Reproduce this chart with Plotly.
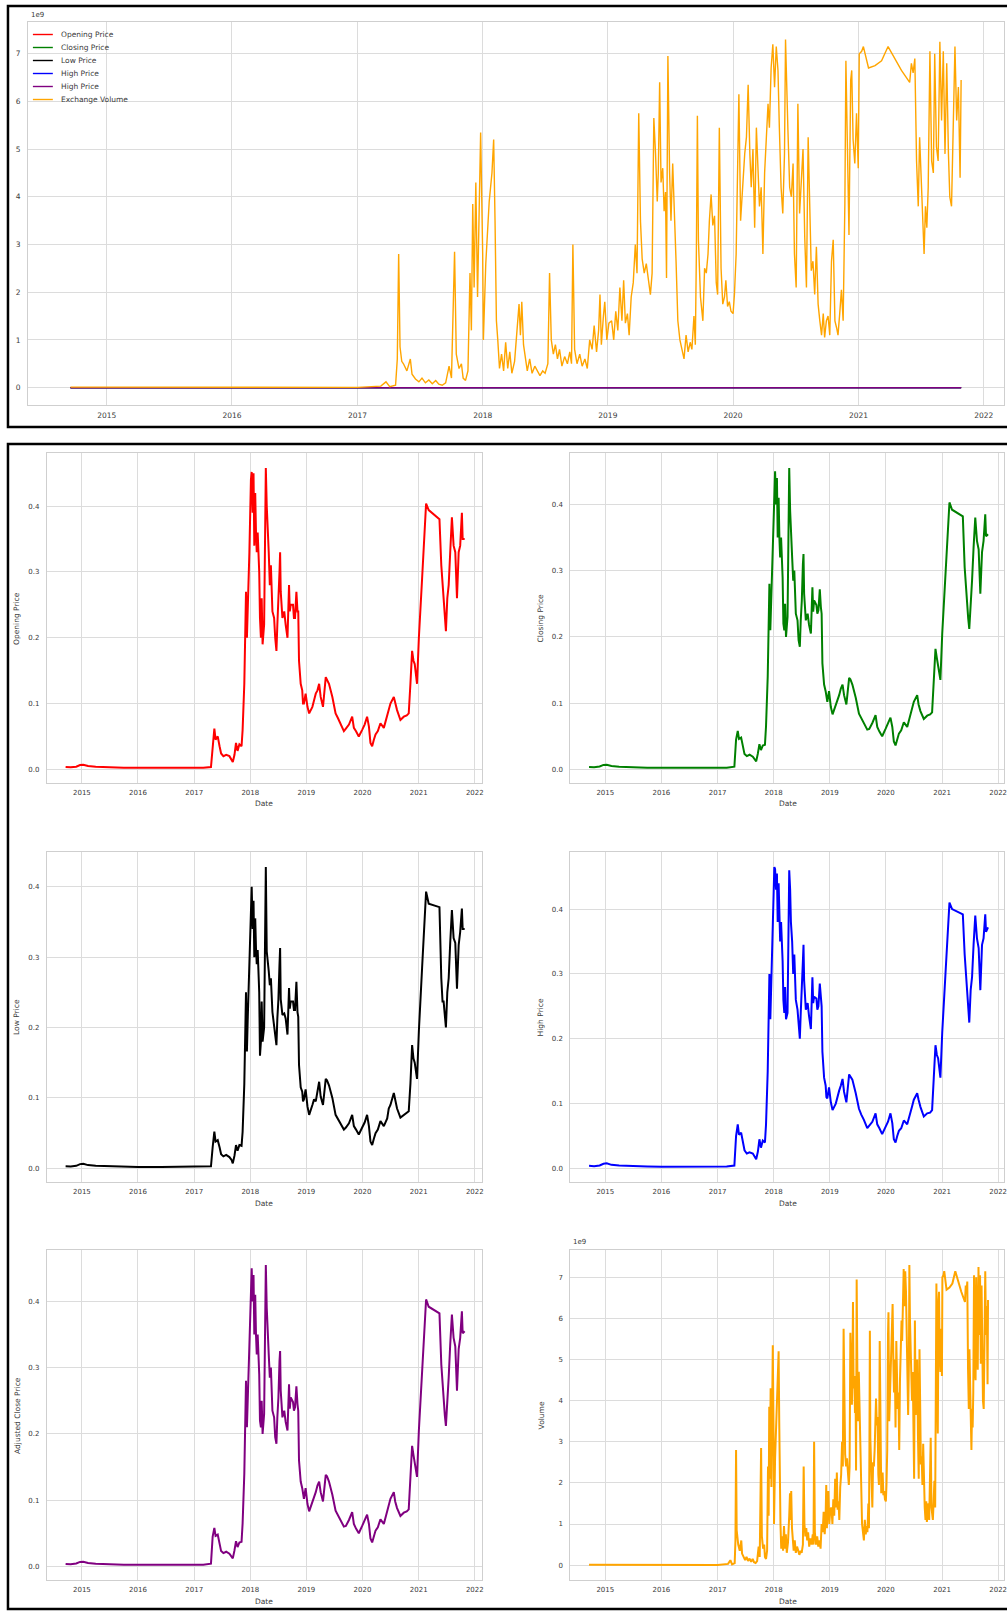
import plotly.graph_objects as go

W, H = 1007, 1611

# ---------------- data ----------------
price_dates = [
    "2014-09-17", "2014-10-20", "2014-11-25", "2014-12-20", "2015-01-10", "2015-02-10", "2015-04-01",
    "2015-07-01", "2015-10-01", "2016-01-01", "2016-06-01", "2016-12-01", "2017-03-01", "2017-04-20",
    "2017-05-01", "2017-05-12", "2017-05-20", "2017-06-03", "2017-06-15", "2017-06-25", "2017-07-10", "2017-07-28",
    "2017-08-18", "2017-09-01", "2017-09-09", "2017-09-20", "2017-09-30", "2017-10-10", "2017-10-22", "2017-11-05",
    "2017-11-12", "2017-11-23", "2017-12-04", "2017-12-10", "2017-12-15", "2017-12-26",
    "2018-01-05", "2018-01-10", "2018-01-16", "2018-01-22", "2018-01-27", "2018-02-02", "2018-02-07", "2018-02-12", "2018-02-18", "2018-02-28",
    "2018-03-05", "2018-03-11", "2018-03-16", "2018-03-22", "2018-04-01", "2018-04-08", "2018-04-12", "2018-04-18", "2018-04-23", "2018-05-01",
    "2018-05-08", "2018-05-15", "2018-05-25", "2018-06-05", "2018-06-12", "2018-06-20", "2018-06-26", "2018-07-03", "2018-07-10", "2018-07-14",
    "2018-07-18", "2018-07-29", "2018-08-10", "2018-08-19", "2018-08-31", "2018-09-10", "2018-09-15", "2018-09-21", "2018-10-06", "2018-10-12",
    "2018-10-19", "2018-10-28", "2018-11-04", "2018-11-09", "2018-11-14", "2018-11-25", "2018-12-05", "2018-12-10", "2018-12-16", "2018-12-27",
    "2019-01-08", "2019-01-19", "2019-02-09", "2019-02-20", "2019-03-03", "2019-03-14", "2019-03-25", "2019-04-04",
    "2019-04-19", "2019-05-07", "2019-05-15", "2019-05-28", "2019-06-19", "2019-07-10", "2019-07-25", "2019-08-11",
    "2019-09-02", "2019-09-15", "2019-10-05", "2019-10-26", "2019-11-06", "2019-11-20", "2019-12-08", "2019-12-30",
    "2020-01-15", "2020-01-31", "2020-02-12", "2020-02-22", "2020-03-04", "2020-03-15", "2020-03-26", "2020-04-10",
    "2020-04-27", "2020-05-19", "2020-06-10", "2020-06-20", "2020-07-01", "2020-07-23", "2020-08-01", "2020-08-13",
    "2020-09-04", "2020-09-26", "2020-10-15", "2020-10-28", "2020-11-08", "2020-11-19", "2020-11-28", "2020-12-06", "2020-12-21",
    "2021-01-02", "2021-01-23", "2021-02-05", "2021-02-18", "2021-03-07", "2021-05-16", "2021-05-28", "2021-06-05",
    "2021-06-12", "2021-06-20", "2021-06-27", "2021-07-06", "2021-07-15", "2021-07-25", "2021-08-05", "2021-08-16",
    "2021-08-27", "2021-09-07", "2021-09-18", "2021-09-28", "2021-10-09", "2021-10-14", "2021-10-27",
]

open_price = [
    0.0035, 0.0030, 0.0040, 0.0065, 0.0070, 0.0050, 0.0040,
    0.0030, 0.0025, 0.0022, 0.0020, 0.0022, 0.0025, 0.0035,
    0.040, 0.062, 0.045, 0.050, 0.035, 0.024, 0.020, 0.022,
    0.020, 0.014, 0.011, 0.022, 0.040, 0.028, 0.038, 0.035,
    0.060, 0.130, 0.270, 0.200, 0.235, 0.330,
    0.440, 0.452, 0.390, 0.450, 0.340, 0.420, 0.360, 0.330, 0.360, 0.300,
    0.230, 0.200, 0.260, 0.190, 0.220, 0.380, 0.458, 0.400, 0.360, 0.330,
    0.280, 0.310, 0.240, 0.230, 0.200, 0.180, 0.220, 0.250, 0.300, 0.330,
    0.270, 0.230, 0.240, 0.220, 0.200, 0.280, 0.240, 0.250, 0.250, 0.230,
    0.230, 0.270, 0.240, 0.240, 0.165, 0.130, 0.120, 0.100, 0.100, 0.115,
    0.095, 0.085, 0.095, 0.105, 0.115, 0.120, 0.130, 0.110,
    0.095, 0.140, 0.135, 0.130, 0.110, 0.085, 0.078, 0.070,
    0.058, 0.062, 0.068, 0.080, 0.063, 0.058, 0.050, 0.060,
    0.068, 0.080, 0.065, 0.040, 0.035, 0.045, 0.053, 0.058,
    0.070, 0.063, 0.080, 0.090, 0.100, 0.110, 0.100, 0.090,
    0.075, 0.080, 0.082, 0.085, 0.130, 0.180, 0.165, 0.160, 0.130,
    0.200, 0.290, 0.350, 0.404, 0.394, 0.380, 0.310, 0.280,
    0.250, 0.230, 0.210, 0.260, 0.280, 0.330, 0.383, 0.340,
    0.330, 0.260, 0.330, 0.340, 0.390, 0.350, 0.350,
]

high_price = [
    0.0040, 0.0035, 0.0045, 0.0072, 0.0078, 0.0055, 0.0044,
    0.0033, 0.0028, 0.0024, 0.0022, 0.0024, 0.0028, 0.0045,
    0.050, 0.068, 0.052, 0.055, 0.040, 0.028, 0.023, 0.025,
    0.023, 0.017, 0.014, 0.026, 0.045, 0.032, 0.043, 0.040,
    0.068, 0.150, 0.300, 0.230, 0.270, 0.350,
    0.465, 0.462, 0.430, 0.455, 0.380, 0.440, 0.390, 0.350, 0.380, 0.320,
    0.260, 0.240, 0.280, 0.230, 0.240, 0.400, 0.460, 0.430, 0.380, 0.350,
    0.300, 0.330, 0.260, 0.245, 0.215, 0.200, 0.240, 0.270, 0.320, 0.345,
    0.290, 0.245, 0.255, 0.235, 0.215, 0.295, 0.255, 0.265, 0.262, 0.245,
    0.250, 0.285, 0.255, 0.250, 0.180, 0.140, 0.128, 0.110, 0.108, 0.125,
    0.102, 0.090, 0.100, 0.112, 0.120, 0.128, 0.138, 0.118,
    0.102, 0.145, 0.142, 0.137, 0.116, 0.092, 0.083, 0.075,
    0.062, 0.066, 0.072, 0.085, 0.068, 0.062, 0.053, 0.064,
    0.072, 0.085, 0.070, 0.045, 0.040, 0.050, 0.058, 0.062,
    0.074, 0.068, 0.085, 0.096, 0.106, 0.116, 0.106, 0.095,
    0.080, 0.085, 0.086, 0.090, 0.140, 0.190, 0.175, 0.170, 0.140,
    0.210, 0.300, 0.360, 0.410, 0.400, 0.392, 0.330, 0.300,
    0.270, 0.245, 0.225, 0.275, 0.295, 0.345, 0.390, 0.355,
    0.340, 0.275, 0.345, 0.355, 0.392, 0.365, 0.372,
]

low_price = [
    0.0030, 0.0027, 0.0036, 0.0060, 0.0064, 0.0046, 0.0037,
    0.0028, 0.0023, 0.0020, 0.0019, 0.0020, 0.0023, 0.0030,
    0.030, 0.052, 0.038, 0.040, 0.030, 0.020, 0.017, 0.019,
    0.016, 0.012, 0.007, 0.018, 0.033, 0.025, 0.033, 0.032,
    0.052, 0.120, 0.250, 0.166, 0.210, 0.300,
    0.360, 0.400, 0.340, 0.380, 0.300, 0.355, 0.313, 0.290, 0.310, 0.250,
    0.160, 0.180, 0.237, 0.180, 0.200, 0.331, 0.428, 0.308, 0.300, 0.280,
    0.260, 0.270, 0.222, 0.200, 0.185, 0.175, 0.213, 0.240, 0.290, 0.313,
    0.240, 0.218, 0.220, 0.213, 0.190, 0.256, 0.227, 0.237, 0.237, 0.225,
    0.225, 0.265, 0.222, 0.215, 0.147, 0.115, 0.109, 0.095, 0.098, 0.112,
    0.088, 0.076, 0.090, 0.098, 0.095, 0.110, 0.123, 0.102,
    0.090, 0.127, 0.125, 0.118, 0.100, 0.076, 0.070, 0.062,
    0.055, 0.058, 0.064, 0.076, 0.060, 0.055, 0.048, 0.058,
    0.065, 0.076, 0.060, 0.038, 0.033, 0.042, 0.050, 0.055,
    0.067, 0.060, 0.071, 0.085, 0.090, 0.107, 0.095, 0.085,
    0.072, 0.076, 0.080, 0.081, 0.120, 0.175, 0.156, 0.150, 0.127,
    0.195, 0.285, 0.345, 0.393, 0.376, 0.371, 0.270, 0.237,
    0.237, 0.215, 0.200, 0.250, 0.270, 0.320, 0.367, 0.327,
    0.320, 0.255, 0.317, 0.336, 0.369, 0.340, 0.340,
]

close_price = [
    0.0035, 0.0030, 0.0042, 0.0066, 0.0068, 0.0050, 0.0040,
    0.0030, 0.0025, 0.0022, 0.0020, 0.0022, 0.0025, 0.0040,
    0.045, 0.058, 0.046, 0.048, 0.034, 0.023, 0.020, 0.022,
    0.019, 0.014, 0.012, 0.024, 0.038, 0.029, 0.036, 0.037,
    0.065, 0.140, 0.280, 0.210, 0.250, 0.340,
    0.430, 0.450, 0.400, 0.440, 0.350, 0.410, 0.350, 0.320, 0.350, 0.290,
    0.220, 0.210, 0.250, 0.200, 0.230, 0.370, 0.455, 0.390, 0.350, 0.320,
    0.285, 0.300, 0.235, 0.225, 0.195, 0.185, 0.225, 0.255, 0.310, 0.325,
    0.265, 0.225, 0.235, 0.218, 0.205, 0.275, 0.238, 0.255, 0.248, 0.235,
    0.240, 0.272, 0.245, 0.235, 0.160, 0.128, 0.118, 0.105, 0.102, 0.118,
    0.094, 0.083, 0.096, 0.106, 0.112, 0.122, 0.128, 0.112,
    0.098, 0.138, 0.136, 0.128, 0.108, 0.084, 0.077, 0.068,
    0.060, 0.061, 0.070, 0.082, 0.064, 0.057, 0.050, 0.061,
    0.070, 0.078, 0.064, 0.042, 0.036, 0.046, 0.054, 0.059,
    0.071, 0.064, 0.082, 0.092, 0.102, 0.112, 0.098, 0.088,
    0.076, 0.081, 0.083, 0.086, 0.135, 0.182, 0.168, 0.158, 0.135,
    0.205, 0.295, 0.355, 0.403, 0.392, 0.382, 0.305, 0.275,
    0.255, 0.228, 0.212, 0.262, 0.285, 0.335, 0.380, 0.345,
    0.332, 0.265, 0.328, 0.345, 0.385, 0.352, 0.355,
]

# Adjusted close equals close for this asset
adj_close_price = list(close_price)

volume_dates = [
    "2014-09-17", "2015-03-01", "2015-09-01", "2016-03-01", "2016-09-01", "2017-01-01", "2017-03-10", "2017-03-25",
    "2017-04-05", "2017-04-22", "2017-04-27", "2017-05-01", "2017-05-05", "2017-05-10", "2017-05-15", "2017-05-25",
    "2017-06-04", "2017-06-09", "2017-06-19", "2017-06-29", "2017-07-08", "2017-07-18", "2017-07-28", "2017-08-07",
    "2017-08-17", "2017-08-26", "2017-09-05", "2017-09-15", "2017-09-25", "2017-10-02", "2017-10-11", "2017-10-16",
    "2017-10-24", "2017-10-31", "2017-11-05", "2017-11-12", "2017-11-19", "2017-11-25", "2017-11-29", "2017-12-03",
    "2017-12-07", "2017-12-12", "2017-12-17", "2017-12-21", "2017-12-26", "2018-01-01", "2018-01-03", "2018-01-10",
    "2018-01-20", "2018-01-28", "2018-02-02", "2018-02-06", "2018-02-10", "2018-02-14", "2018-02-19", "2018-02-25",
    "2018-03-03", "2018-03-09", "2018-03-15", "2018-03-21", "2018-03-27", "2018-04-04", "2018-04-12", "2018-04-17",
    "2018-04-21", "2018-04-25", "2018-04-30", "2018-05-05", "2018-05-11", "2018-05-18", "2018-05-25", "2018-06-02",
    "2018-06-09", "2018-06-17", "2018-06-25", "2018-07-02", "2018-07-10", "2018-07-15", "2018-07-20", "2018-07-26",
    "2018-08-01", "2018-08-07", "2018-08-13", "2018-08-20", "2018-08-28", "2018-09-05", "2018-09-12", "2018-09-17",
    "2018-09-21", "2018-09-26", "2018-10-03", "2018-10-11", "2018-10-18", "2018-10-26", "2018-11-02", "2018-11-09",
    "2018-11-16", "2018-11-22", "2018-11-29", "2018-12-05", "2018-12-09", "2018-12-13", "2018-12-19", "2018-12-23",
    "2018-12-29", "2019-01-04", "2019-01-12", "2019-01-18", "2019-01-24", "2019-01-30", "2019-02-05", "2019-02-11",
    "2019-02-16", "2019-02-21", "2019-02-27", "2019-03-04", "2019-03-10", "2019-03-16", "2019-03-22", "2019-03-27",
    "2019-04-01", "2019-04-06", "2019-04-11", "2019-04-17", "2019-04-23", "2019-04-30", "2019-05-05", "2019-05-10",
    "2019-05-15", "2019-05-20", "2019-05-25", "2019-05-28", "2019-06-01", "2019-06-05", "2019-06-10", "2019-06-14",
    "2019-06-18", "2019-06-21", "2019-06-25", "2019-06-30", "2019-07-04", "2019-07-09", "2019-07-14", "2019-07-19",
    "2019-07-24", "2019-07-30", "2019-08-05", "2019-08-11", "2019-08-17", "2019-08-23", "2019-08-29", "2019-09-03",
    "2019-09-09", "2019-09-13", "2019-09-16", "2019-09-19", "2019-09-22", "2019-09-28", "2019-10-05", "2019-10-10",
    "2019-10-15", "2019-10-20", "2019-10-24", "2019-10-29", "2019-11-03", "2019-11-08", "2019-11-13", "2019-11-17",
    "2019-11-22", "2019-11-27", "2019-12-02", "2019-12-07", "2019-12-11", "2019-12-16", "2019-12-21", "2019-12-26",
    "2020-01-01", "2020-01-05", "2020-01-10", "2020-01-15", "2020-01-18", "2020-01-23", "2020-01-30", "2020-02-04",
    "2020-02-09", "2020-02-14", "2020-02-19", "2020-02-23", "2020-02-28", "2020-03-04", "2020-03-09", "2020-03-14",
    "2020-03-18", "2020-03-23", "2020-03-28", "2020-04-02", "2020-04-07", "2020-04-12", "2020-04-16", "2020-04-21",
    "2020-04-26", "2020-05-01", "2020-05-06", "2020-05-11", "2020-05-15", "2020-05-20", "2020-05-25", "2020-05-30",
    "2020-06-02", "2020-06-06", "2020-06-09", "2020-06-14", "2020-06-19", "2020-06-24", "2020-06-28", "2020-07-03",
    "2020-07-08", "2020-07-13", "2020-07-18", "2020-07-23", "2020-07-28", "2020-08-02", "2020-08-07", "2020-08-11",
    "2020-08-16", "2020-08-21", "2020-08-26", "2020-08-31", "2020-09-05", "2020-09-10", "2020-09-15", "2020-09-20",
    "2020-09-24", "2020-09-29", "2020-10-04", "2020-10-09", "2020-10-14", "2020-10-19", "2020-10-24", "2020-10-29",
    "2020-11-02", "2020-11-07", "2020-11-12", "2020-11-17", "2020-11-22", "2020-11-25", "2020-11-29", "2020-12-04",
    "2020-12-09", "2020-12-12", "2020-12-16", "2020-12-21", "2020-12-26", "2020-12-31", "2021-01-03", "2021-01-10",
    "2021-01-15", "2021-01-20", "2021-01-30", "2021-02-18", "2021-03-09", "2021-03-28", "2021-04-16", "2021-05-06",
    "2021-05-30", "2021-06-04", "2021-06-09", "2021-06-14", "2021-06-19", "2021-06-24", "2021-06-28", "2021-07-03",
    "2021-07-08", "2021-07-11", "2021-07-15", "2021-07-19", "2021-07-23", "2021-07-28", "2021-08-02", "2021-08-07",
    "2021-08-11", "2021-08-16", "2021-08-21", "2021-08-26", "2021-08-31", "2021-09-05", "2021-09-10", "2021-09-15",
    "2021-09-20", "2021-09-24", "2021-09-29", "2021-10-04", "2021-10-09", "2021-10-14", "2021-10-19", "2021-10-24",
    "2021-10-27",
]

exchange_volume = [
    0.010e9, 0.006e9, 0.004e9, 0.003e9, 0.003e9, 0.005e9, 0.030e9, 0.120e9,
    0.020e9, 0.050e9, 0.600e9, 2.800e9, 0.850e9, 0.550e9, 0.500e9, 0.350e9,
    0.600e9, 0.280e9, 0.180e9, 0.120e9, 0.200e9, 0.100e9, 0.160e9, 0.080e9,
    0.150e9, 0.070e9, 0.050e9, 0.100e9, 0.450e9, 0.200e9, 2.850e9, 0.700e9,
    0.400e9, 0.500e9, 0.200e9, 0.150e9, 0.350e9, 2.400e9, 1.200e9, 3.850e9,
    2.100e9, 4.300e9, 1.900e9, 3.200e9, 5.350e9, 2.800e9, 1.000e9, 2.600e9,
    3.900e9, 4.500e9, 5.200e9, 3.500e9, 1.400e9, 1.000e9, 0.400e9, 0.700e9,
    0.350e9, 0.950e9, 0.400e9, 0.750e9, 0.300e9, 0.550e9, 1.200e9, 1.750e9,
    1.100e9, 1.800e9, 0.900e9, 0.600e9, 0.350e9, 0.600e9, 0.300e9, 0.450e9,
    0.350e9, 0.250e9, 0.350e9, 0.300e9, 0.500e9, 2.400e9, 1.000e9, 0.700e9,
    0.900e9, 0.600e9, 0.800e9, 0.450e9, 0.650e9, 0.500e9, 0.750e9, 0.500e9,
    3.000e9, 0.800e9, 0.500e9, 0.700e9, 0.450e9, 0.600e9, 0.400e9, 1.000e9,
    0.800e9, 1.300e9, 0.750e9, 1.200e9, 1.950e9, 0.900e9, 1.500e9, 1.800e9,
    1.000e9, 1.350e9, 1.400e9, 1.000e9, 1.600e9, 1.200e9, 2.100e9, 1.400e9,
    2.250e9, 1.350e9, 1.550e9, 1.100e9, 1.900e9, 2.200e9, 3.000e9, 2.400e9,
    5.750e9, 3.500e9, 2.700e9, 2.400e9, 2.600e9, 2.200e9, 1.950e9, 2.400e9,
    5.650e9, 4.900e9, 3.900e9, 4.500e9, 6.400e9, 4.300e9, 4.600e9, 3.700e9,
    4.100e9, 2.300e9, 6.950e9, 4.500e9, 3.500e9, 4.700e9, 3.800e9, 2.600e9,
    1.400e9, 1.000e9, 0.800e9, 0.600e9, 1.100e9, 0.750e9, 0.950e9, 0.800e9,
    1.500e9, 0.900e9, 2.800e9, 5.700e9, 3.100e9, 1.900e9, 1.400e9, 2.500e9,
    2.400e9, 2.800e9, 3.500e9, 4.050e9, 3.400e9, 3.600e9, 2.200e9, 1.950e9,
    5.450e9, 2.500e9, 1.750e9, 1.900e9, 2.250e9, 1.700e9, 1.800e9, 1.600e9,
    1.550e9, 1.950e9, 2.800e9, 5.600e9, 6.150e9, 3.500e9, 4.500e9, 4.900e9,
    5.250e9, 6.350e9, 4.900e9, 4.200e9, 5.000e9, 3.350e9, 5.450e9, 4.550e9,
    3.800e9, 4.200e9, 2.800e9, 4.500e9, 5.250e9, 5.950e9, 5.450e9, 6.700e9,
    7.200e9, 6.300e9, 7.150e9, 6.650e9, 5.450e9, 4.200e9, 3.650e9, 4.900e9,
    7.300e9, 5.950e9, 5.400e9, 4.200e9, 4.000e9, 4.700e9, 2.800e9, 2.100e9,
    5.950e9, 3.650e9, 4.350e9, 5.000e9, 3.150e9, 2.100e9, 5.250e9, 4.200e9,
    2.450e9, 2.650e9, 1.950e9, 2.950e9, 1.750e9, 1.400e9, 1.100e9, 1.550e9,
    1.050e9, 1.400e9, 1.500e9, 1.100e9, 2.650e9, 3.100e9, 1.400e9, 1.250e9,
    1.100e9, 1.550e9, 2.050e9, 1.400e9, 3.850e9, 6.850e9, 4.900e9, 3.200e9,
    6.450e9, 6.650e9, 5.200e9, 4.700e9, 5.750e9, 4.600e9, 7.000e9, 7.050e9,
    7.150e9, 7.000e9, 6.700e9, 6.750e9, 6.850e9, 7.150e9, 6.900e9, 6.650e9,
    6.400e9, 6.800e9, 6.600e9, 6.900e9, 4.750e9, 3.800e9, 5.250e9, 4.350e9,
    3.200e9, 2.800e9, 3.800e9, 3.350e9, 4.200e9, 7.050e9, 4.750e9, 4.500e9,
    7.000e9, 5.050e9, 4.750e9, 7.250e9, 5.600e9, 7.050e9, 4.900e9, 6.800e9,
    4.900e9, 4.000e9, 3.800e9, 5.600e9, 7.150e9, 5.600e9, 6.300e9, 4.400e9,
    6.450e9,
]

year_ticks = ["2015-01-01", "2016-01-01", "2017-01-01", "2018-01-01",
              "2019-01-01", "2020-01-01", "2021-01-01", "2022-01-01"]
year_labels = ["2015", "2016", "2017", "2018", "2019", "2020", "2021", "2022"]
price_ticks = [0.0, 0.1, 0.2, 0.3, 0.4]
price_labels = ["0.0", "0.1", "0.2", "0.3", "0.4"]
volume_ticks = [0, 1e9, 2e9, 3e9, 4e9, 5e9, 6e9, 7e9]
volume_labels = ["0", "1", "2", "3", "4", "5", "6", "7"]

assert len(price_dates) == len(open_price) == len(high_price) == len(low_price) == len(close_price)
assert len(volume_dates) == len(exchange_volume)

# ---------------- styling helpers ----------------
FONT = "DejaVu Sans"
TXT = "#3a3a3a"
GRID = "#dcdcdc"
SPINE = "#cfcfcf"


def fx(px):
    return px / W


def fy(py):
    return 1 - py / H


def mpl_range(*series):
    lo = min(min(s) for s in series)
    hi = max(max(s) for s in series)
    pad = 0.05 * (hi - lo)
    return [lo - pad, hi + pad]


def xaxis(domain, rng, size):
    return dict(type="date", domain=domain, range=rng, tickvals=year_ticks, ticktext=year_labels,
                showgrid=True, gridcolor=GRID, gridwidth=1, zeroline=False,
                showline=True, mirror=True, linecolor=SPINE, linewidth=1,
                ticks="", ticklabelstandoff=3, ticklabeloverflow="allow",
                tickfont=dict(family=FONT, size=size, color=TXT), fixedrange=True)


def yaxis(domain, rng, tv, tt, size, anchor):
    return dict(domain=domain, range=rng, tickvals=tv, ticktext=tt, anchor=anchor,
                showgrid=True, gridcolor=GRID, gridwidth=1, zeroline=False,
                showline=True, mirror=True, linecolor=SPINE, linewidth=1,
                ticks="", ticklabelstandoff=5,
                tickfont=dict(family=FONT, size=size, color=TXT), fixedrange=True)


fig = go.Figure()

# ---------------- top combined chart ----------------
top_series = [
    ("Opening Price", open_price, price_dates, "red"),
    ("Closing Price", close_price, price_dates, "green"),
    ("Low Price", low_price, price_dates, "black"),
    ("High Price", high_price, price_dates, "blue"),
    ("High Price", adj_close_price, price_dates, "purple"),
    ("Exchange Volume", exchange_volume, volume_dates, "orange"),
]
for name, vals, dts, col in top_series:
    fig.add_trace(go.Scatter(x=dts, y=vals, mode="lines", name=name,
                             line=dict(color=col, width=1.4), xaxis="x", yaxis="y",
                             showlegend=False))

# ---------------- 3x2 subplots ----------------
left_x = [fx(47), fx(483)]
right_x = [fx(572), 1.0]
rows = [(453, 783), (852, 1182), (1250, 1580)]

subplots = [
    # (series, dates, color, y-title, col, row, ticks, labels)
    (open_price, price_dates, "red", "Opening Price", 0, 0, price_ticks, price_labels),
    (close_price, price_dates, "green", "Closing Price", 1, 0, price_ticks, price_labels),
    (low_price, price_dates, "black", "Low Price", 0, 1, price_ticks, price_labels),
    (high_price, price_dates, "blue", "High Price", 1, 1, price_ticks, price_labels),
    (adj_close_price, price_dates, "purple", "Adjusted Close Price", 0, 2, price_ticks, price_labels),
    (exchange_volume, volume_dates, "orange", "Volume", 1, 2, volume_ticks, volume_labels),
]

layout_axes = {}
annotations = []
shapes = []

layout_axes["xaxis"] = xaxis([fx(28), 1.0], ["2014-05-16", "2022-03-01"], 7.5)
layout_axes["xaxis"]["anchor"] = "y"
layout_axes["yaxis"] = yaxis([fy(405), fy(22)],
                             mpl_range(open_price, close_price, low_price, high_price, exchange_volume),
                             volume_ticks, volume_labels, 7.5, "x")

for i, (vals, dts, col, title, c, r, tv, tt) in enumerate(subplots):
    k = i + 2
    top, bot = rows[r]
    dom_x = left_x if c == 0 else right_x
    xr = ["2014-05-18", "2022-02-14"] if c == 0 else ["2014-05-18", "2022-02-08"]
    xa = xaxis(dom_x, xr, 7)
    xa["anchor"] = f"y{k}"
    ya = yaxis([fy(bot), fy(top)], mpl_range(vals), tv, tt, 7, f"x{k}")
    layout_axes[f"xaxis{k}"] = xa
    layout_axes[f"yaxis{k}"] = ya
    fig.add_trace(go.Scatter(x=dts, y=vals, mode="lines", name=title,
                             line=dict(color=col, width=2.0), xaxis=f"x{k}", yaxis=f"y{k}",
                             showlegend=False))
    # y-axis title
    annotations.append(dict(text=title, x=fx(17 if c == 0 else 543), y=fy((top + bot) / 2),
                            xref="paper", yref="paper", textangle=-90, showarrow=False,
                            xanchor="center", yanchor="middle",
                            font=dict(family=FONT, size=7.5, color=TXT)))
    # x-axis title
    annotations.append(dict(text="Date", x=fx(265 if c == 0 else 790), y=fy(bot + 21),
                            xref="paper", yref="paper", showarrow=False,
                            xanchor="center", yanchor="middle",
                            font=dict(family=FONT, size=7.5, color=TXT)))

# offset labels "1e9"
annotations.append(dict(text="1e9", x=fx(29), y=fy(15), xref="paper", yref="paper", showarrow=False,
                        xanchor="left", yanchor="middle", font=dict(family=FONT, size=7, color=TXT)))
annotations.append(dict(text="1e9", x=fx(573), y=fy(1242), xref="paper", yref="paper", showarrow=False,
                        xanchor="left", yanchor="middle", font=dict(family=FONT, size=7, color=TXT)))

# hand-drawn legend for the top chart (matplotlib-like compact spacing)
for i, (name, vals, dts, col) in enumerate(top_series):
    yy = 34.5 + 13 * i
    shapes.append(dict(type="line", xref="paper", yref="paper", x0=fx(33), x1=fx(53),
                       y0=fy(yy), y1=fy(yy), line=dict(color=col, width=1.4)))
    annotations.append(dict(text=name, x=fx(59), y=fy(yy), xref="paper", yref="paper", showarrow=False,
                            xanchor="left", yanchor="middle", font=dict(family=FONT, size=7.5, color=TXT)))

# black frames around the two figure panels
shapes.append(dict(type="rect", xref="paper", yref="paper", x0=fx(8), x1=1.02, y0=fy(427), y1=fy(6),
                   line=dict(color="black", width=2.5), fillcolor="rgba(0,0,0,0)"))
shapes.append(dict(type="rect", xref="paper", yref="paper", x0=fx(8), x1=1.02, y0=fy(1609), y1=fy(444),
                   line=dict(color="black", width=2.5), fillcolor="rgba(0,0,0,0)"))

fig.update_layout(
    width=W, height=H, autosize=False,
    margin=dict(l=0, r=0, t=0, b=0, pad=0),
    paper_bgcolor="white", plot_bgcolor="white",
    showlegend=False,
    annotations=annotations, shapes=shapes,
    font=dict(family=FONT, size=8, color=TXT),
    **layout_axes,
)

fig.write_html("out.html", config={"displayModeBar": False},
               post_script="document.body.style.margin='0';document.body.style.overflow='hidden';")
